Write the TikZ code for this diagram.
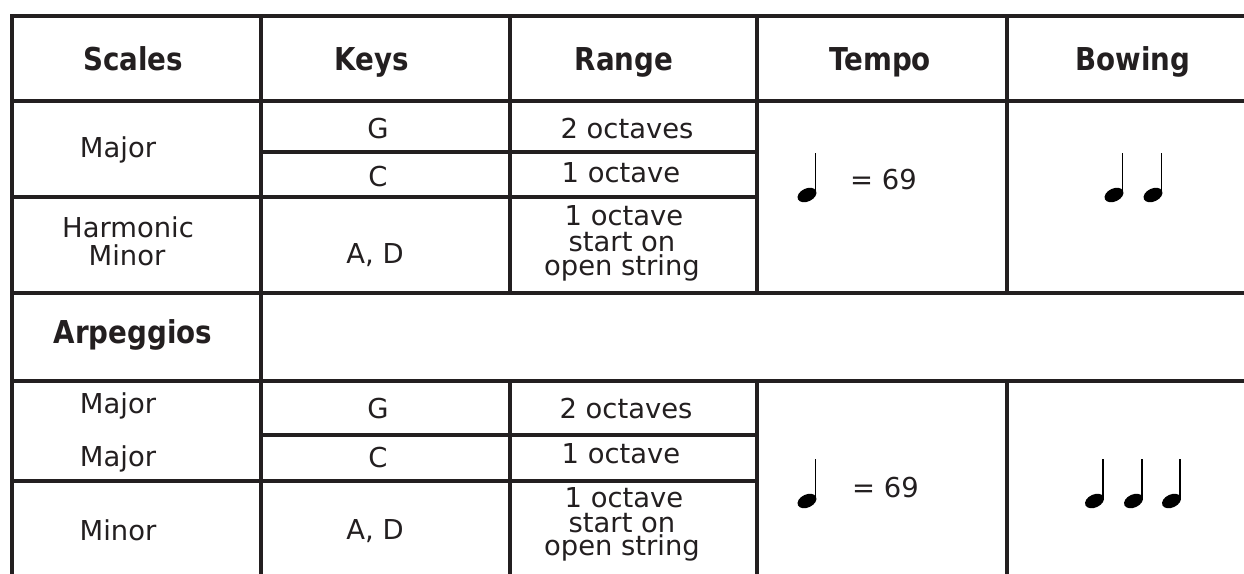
\documentclass[tikz,border=0pt]{standalone}
\usepackage{fontspec}
\setmainfont{DejaVu Sans}
\newfontfamily\hdrfont[FakeStretch=0.88]{DejaVu Sans Bold}
\definecolor{ink}{HTML}{231F20}
\begin{document}
\begin{tikzpicture}[x=1pt,y=-1pt,
  rule/.style={draw=ink, line width=3.2pt, line cap=rect},
  body/.style={font=\fontsize{27.4}{30}\selectfont, text=ink, inner sep=0pt, anchor=base},
  head/.style={font=\hdrfont\fontsize{31.5}{34}\selectfont, text=ink, inner sep=0pt, anchor=base},
  stemline/.style={draw=black, line width=1.5pt}]
\useasboundingbox (0,0) rectangle (1244,573);
\fill[white] (0,0) rectangle (1244,573);
% horizontal rules
\draw[rule] (12,16) -- (1244,16);
\draw[rule] (12,101) -- (1244,101);
\draw[rule] (261,152) -- (757,152);
\draw[rule] (12,197) -- (757,197);
\draw[rule] (12,293) -- (1244,293);
\draw[rule] (12,381) -- (1244,381);
\draw[rule] (261,435) -- (757,435);
\draw[rule] (12,481) -- (757,481);
% vertical rules
\draw[rule] (12,16) -- (12,573);
\draw[rule] (261,16) -- (261,573);
\draw[rule] (510,16) -- (510,293);
\draw[rule] (757,16) -- (757,293);
\draw[rule] (1007,16) -- (1007,293);
\draw[rule] (510,381) -- (510,573);
\draw[rule] (757,381) -- (757,573);
\draw[rule] (1007,381) -- (1007,573);
% headers
\node[head] (hScales) at (133,70) {Scales};
\node[head] (hKeys) at (372,70) {Keys};
\node[head] (hRange) at (624,70) {Range};
\node[head] (hTempo) at (880,70) {Tempo};
\node[head] (hBowing) at (1133,70) {Bowing};
% scales section
\node[body] (sMajor) at (118,157) {Major};
\node[body] (sG) at (378,138) {G};
\node[body] (sC) at (378,186) {C};
\node[body] (sR1) at (627,138) {2 octaves};
\node[body] (sR2) at (621,182) {1 octave};
\node[body] (sHarm) at (128,237) {Harmonic};
\node[body] (sMinor) at (127,265) {Minor};
\node[body] (sAD) at (375,263) {A, D};
\node[body] (sR3a) at (624,225) {1 octave};
\node[body] (sR3b) at (622,251) {start on};
\node[body] (sR3c) at (622,275) {open string};
\node[body, anchor=base west] (sTempo) at (850,189) {= 69};
% arpeggios section
\node[head] (hArp) at (133,343) {Arpeggios};
\node[body] (aMajor1) at (118,413) {Major};
\node[body] (aMajor2) at (118,466) {Major};
\node[body] (aG) at (378,418) {G};
\node[body] (aC) at (378,467) {C};
\node[body] (aR1) at (626,418) {2 octaves};
\node[body] (aR2) at (621,463) {1 octave};
\node[body] (aMinor) at (118,540) {Minor};
\node[body] (aAD) at (375,539) {A, D};
\node[body] (aR3a) at (624,507) {1 octave};
\node[body] (aR3b) at (622,532) {start on};
\node[body] (aR3c) at (622,555) {open string};
\node[body, anchor=base west] (aTempo) at (852,497) {= 69};
% quarter notes
\foreach \hx/\hy in {807/195, 1114/195, 1153/195, 807/501, 1094.5/501, 1133.5/501, 1171.5/501}{
  \fill[black, rotate around={25:(\hx,\hy)}] (\hx,\hy) ellipse (10 and 6.5);
  \draw[stemline] (\hx+8.6,\hy-1) -- (\hx+8.6,\hy-42);
}
\end{tikzpicture}
\end{document}
